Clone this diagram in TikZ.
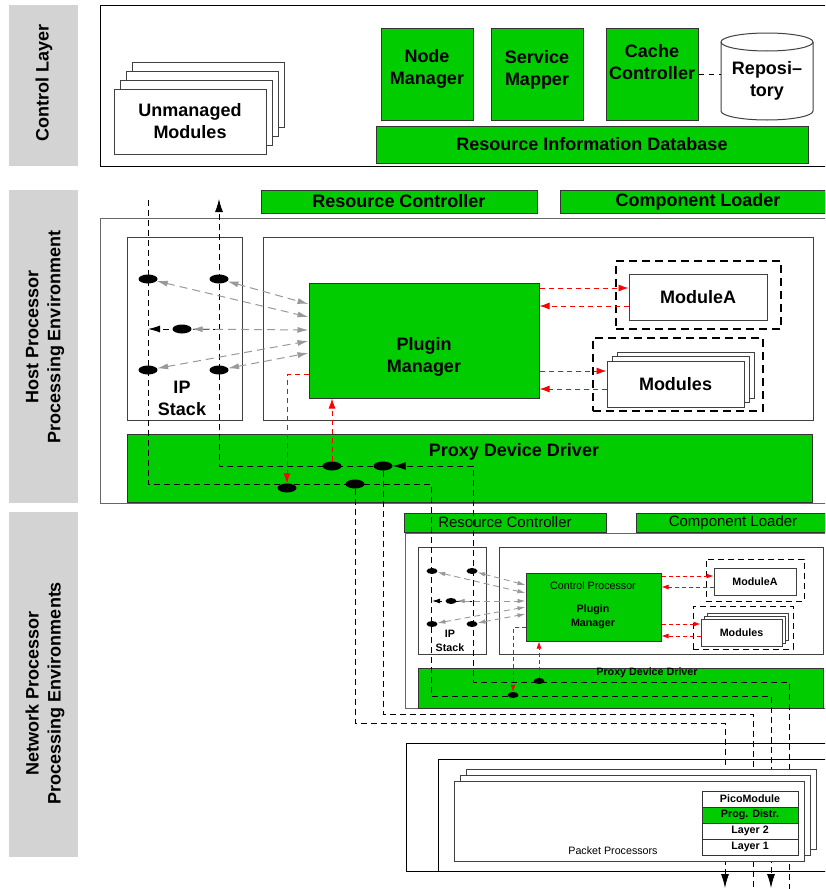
\documentclass[tikz,border=0pt]{standalone}
\usepackage{fontspec}
\setmainfont{Liberation Sans}
\usetikzlibrary{arrows.meta,positioning,shapes.geometric}
\definecolor{pgreen}{RGB}{0,204,0}
\definecolor{bargray}{RGB}{211,211,211}
\newcommand{\bigf}{\fontsize{18}{22}\selectfont\bfseries}
\newcommand{\midf}{\fontsize{15}{18}\selectfont}
\newcommand{\smallf}{\fontsize{10.7}{14}\selectfont\bfseries}
\newcommand{\smallr}{\fontsize{10.7}{14}\selectfont}
\begin{document}
\begin{tikzpicture}[x=1pt, y=-1pt,
  frame/.style={draw=black!75, line width=1pt, fill=white},
  gbox/.style={draw=black!80, line width=1pt, fill=pgreen},
  grp/.style={draw, line width=1.2pt, dash pattern=on 8pt off 5pt},
  sgrp/.style={draw, line width=1pt, dash pattern=on 6pt off 4pt},
  bar/.style={fill=bargray, inner sep=0pt},
  bigtxt/.style={font=\bigf, align=center, inner sep=0pt},
  smalltxt/.style={font=\smallf, align=center, inner sep=0pt},
  cell/.style={draw=black!80, line width=1pt, fill=white, minimum width=96pt,
    minimum height=16pt, inner sep=0pt, outer sep=0pt, font=\smallf},
  bus/.style={draw, line width=0.9pt, dash pattern=on 6pt off 4pt},
  ctl/.style={draw=red, line width=0.9pt, dash pattern=on 5pt off 4pt,
    -{Latex[length=10pt,width=7pt]}},
  sctl/.style={draw=red, line width=0.8pt, dash pattern=on 4pt off 3pt,
    -{Latex[length=7pt,width=5pt]}},
  ipc/.style={draw=black!40, line width=1pt, dash pattern=on 8pt off 5pt,
    {Latex[length=11pt,width=6pt]}-{Latex[length=11pt,width=6pt]}},
  sipc/.style={draw=black!40, line width=0.9pt, dash pattern=on 6pt off 4pt,
    {Latex[length=8pt,width=4.5pt]}-{Latex[length=8pt,width=4.5pt]}},
  dot/.style={ellipse, fill=black, inner sep=0pt, minimum width=19pt, minimum height=9pt},
  sdot/.style={dot, minimum width=11pt, minimum height=6pt}]
\useasboundingbox (0,0) rectangle (825,889);
\clip (0,0) rectangle (825,889);

% layer labels
\node[bar, minimum width=69pt, minimum height=161pt] (clbar) at (43.5,85.5) {};
\node[bar, minimum width=69pt, minimum height=313pt] (hpbar) at (43.5,346.5) {};
\node[bar, minimum width=69pt, minimum height=345pt] (npbar) at (43.5,684.5) {};
\node[bigtxt, rotate=90] (cltxt) at (44,83) {Control Layer};
\node[bigtxt, rotate=90] (hptxt) at (45,337) {Host Processor\\Processing Environment};
\node[bigtxt, rotate=90] (nptxt) at (45,693) {Network Processor\\Processing Environments};

% control layer
\node[frame, draw=black, minimum width=740pt, minimum height=161pt] (clbox) at (470,85.5) {};
\foreach \k in {3,2,1}
  \node[frame, minimum width=152pt, minimum height=65pt] (um\k) at ({190+6*\k},{121.5-9*\k}) {};
\node[frame, minimum width=152pt, minimum height=65pt, font=\bigf, align=center] (unmanaged) at (190,121.5) {Unmanaged\\Modules};
\node[gbox, minimum width=92pt, minimum height=92pt] (nodemgr) at (427,74) {};
\node[bigtxt] (nodemgrtxt) at (427,69) {Node\\Manager};
\node[gbox, minimum width=92pt, minimum height=92pt] (svcmap) at (537,74) {};
\node[bigtxt] (svcmaptxt) at (537,70) {Service\\Mapper};
\node[gbox, minimum width=92pt, minimum height=92pt] (cachectl) at (652,74) {};
\node[bigtxt] (cachectltxt) at (652,62) {Cache\\Controller};
\draw[frame] (721,42) -- (721,111) arc[start angle=180, end angle=360, x radius=46pt, y radius=9pt]
  -- (813,42) arc[start angle=0, end angle=180, x radius=46pt, y radius=9pt] -- cycle;
\draw[draw=black!75, line width=1pt] (721,42) arc[start angle=180, end angle=360, x radius=46pt, y radius=9pt];
\node[bigtxt] (repo) at (767,81) {Reposi--\\tory};
\coordinate (repoedge) at (721,74);
\draw[line width=0.9pt, dash pattern=on 5pt off 5pt] (cachectl.east) -- (repoedge);
\node[gbox, minimum width=432pt, minimum height=37pt, font=\bigf] (rid) at (592,144.5) {Resource Information Database};

% host processor
\node[gbox, minimum width=276pt, minimum height=23pt, inner sep=0pt, font=\bigf] (hrc) at (399,201.5) {Resource Controller};
\node[gbox, minimum width=276pt, minimum height=23pt, inner sep=0pt, font=\bigf] (hcl) at (698,201.5) {Component Loader};
\node[frame, draw=black!60, minimum width=740pt, minimum height=285pt] (hostbox) at (470,360.5) {};
\node[frame, minimum width=115pt, minimum height=183pt] (hipbox) at (184.5,328.5) {};
\node[bigtxt] (hiptxt) at (182,398) {IP\\Stack};
\node[frame, minimum width=550pt, minimum height=183pt] (hplugarea) at (538,328.5) {};
\node[gbox, minimum width=230pt, minimum height=115pt] (hpm) at (424,340.5) {};
\node[bigtxt] (hpmtxt) at (424,357) {Plugin\\Manager};
\node[grp, minimum width=165pt, minimum height=68pt] (hmodagrp) at (698.5,295) {};
\node[frame, minimum width=138pt, minimum height=46pt, font=\bigf] (hmoda) at (698,297) {ModuleA};
\node[grp, minimum width=170pt, minimum height=73pt] (hmodgrp) at (678,374.5) {};
\foreach \k in {2,1}
  \node[frame, minimum width=137pt, minimum height=46pt] (hmod\k) at ({675.5+5*\k},{384-4.5*\k}) {};
\node[frame, minimum width=137pt, minimum height=46pt, font=\bigf] (hmod) at (675.5,384) {Modules};
\node[gbox, minimum width=685pt, minimum height=68pt] (hpdd) at (469.5,468) {};
\node[bigtxt] (hpddtxt) at (514,452) {Proxy Device Driver};

% network processor
\node[gbox, minimum width=202pt, minimum height=19pt, inner sep=0pt, font=\midf] (nrc) at (505,522.5) {Resource Controller};
\node[gbox, minimum width=194pt, minimum height=19pt, inner sep=0pt, font=\midf] (ncl) at (733,522.5) {Component Loader};
\node[frame, draw=black!60, minimum width=435pt, minimum height=175pt] (netbox) at (622.5,620.5) {};
\node[frame, minimum width=68pt, minimum height=107pt] (nipbox) at (452,600.5) {};
\node[smalltxt] (niptxt) at (450,641) {IP\\Stack};
\node[frame, minimum width=324pt, minimum height=107pt] (nplugarea) at (661,600.5) {};
\node[gbox, minimum width=135pt, minimum height=68pt] (npm) at (593.5,607) {};
\node[smalltxt, font=\smallr] (npmcp) at (593,586) {Control Processor};
\node[smalltxt] (npmtxt) at (593,617) {Plugin\\Manager};
\node[sgrp, minimum width=98pt, minimum height=42pt] (nmodagrp) at (755,580) {};
\node[frame, minimum width=82pt, minimum height=27pt, font=\smallf] (nmoda) at (755,581.5) {ModuleA};
\node[sgrp, minimum width=100pt, minimum height=43pt] (nmodgrp) at (743,627.5) {};
\foreach \k in {2,1}
  \node[frame, minimum width=81pt, minimum height=27pt] (nmod\k) at ({741.5+3*\k},{632.5-3*\k}) {};
\node[frame, minimum width=81pt, minimum height=27pt, font=\smallf] (nmod) at (741.5,632.5) {Modules};
\node[gbox, minimum width=405pt, minimum height=40pt] (npdd) at (620.5,688) {};
\node[smalltxt] (npddtxt) at (647,673) {Proxy Device Driver};

% packet processor frames
\node[frame, draw=black, minimum width=434pt, minimum height=128pt] (ppouter) at (623,807) {};
\node[frame, draw=black, minimum width=402pt, minimum height=112pt] (ppinner) at (639,815) {};

% taps
\node[dot] (d1) at (148,279) {};
\node[dot] (d2) at (219,279) {};
\node[dot] (d3) at (182,329) {};
\node[dot] (d4) at (148,370) {};
\node[dot] (d5) at (219,370) {};
\node[dot] (d6) at (287,488) {};
\node[dot] (d7) at (332,466) {};
\node[dot] (d8) at (355,484) {};
\node[dot] (d9) at (383,466) {};
\node[sdot] (nd1) at (432,571) {};
\node[sdot] (nd2) at (472,571) {};
\node[sdot] (nd3) at (451,601) {};
\node[sdot] (nd4) at (432,624) {};
\node[sdot] (nd5) at (472,624) {};
\node[sdot] (nd6) at (513,695) {};
\node[sdot] (nd7) at (539,681) {};

\coordinate (btop) at (148,200);
\coordinate (atop) at (219,199);
\coordinate (bturn1) at (431,484);
\coordinate (bturn2) at (771,696);
\coordinate (bout) at (771,888);
\coordinate (aturn1) at (473,682);
\coordinate (aout) at (789,890);
\coordinate (cturn) at (753,714);
\coordinate (cout) at (753,890);
\coordinate (dturn) at (725,723);
\coordinate (dout) at (725,888);

\draw[bus, -{Latex[length=14pt,width=8pt]}] (btop) |- (bturn1) |- (bturn2) -- (bout);
\draw[bus, -{Latex[length=13pt,width=8pt]}] (aout) |- (aturn1) |- (d9);
\draw[bus, -{Latex[length=13pt,width=8pt]}] (d9) -| (atop);
\draw[bus] (d9) |- (cturn) -- (cout);
\draw[bus, -{Latex[length=14pt,width=8pt]}] (d8) |- (dturn) -- (dout);
\draw[bus, -{Latex[length=12pt,width=7pt]}] (d3 -| d2) -- (d3 -| d1);
\draw[bus, -{Latex[length=8pt,width=5pt]}] (nd3 -| nd2) -- (nd3 -| nd1);

\draw[ipc] (d2) -- ([yshift=36.5pt]hpm.west);
\draw[ipc] (d1) -- ([yshift=23.5pt]hpm.west);
\draw[ipc] (d3) -- ([yshift=10.5pt]hpm.west);
\draw[ipc] (d4) -- ([yshift=-0.5pt]hpm.west);
\draw[ipc] (d5) -- ([yshift=-12.5pt]hpm.west);
\draw[sipc] (nd2) -- ([yshift=22pt]npm.west);
\draw[sipc] (nd1) -- ([yshift=14pt]npm.west);
\draw[sipc] (nd3) -- ([yshift=6pt]npm.west);
\draw[sipc] (nd4) -- (npm.west);
\draw[sipc] (nd5) -- ([yshift=-7pt]npm.west);

\draw[ctl] ([yshift=9pt]hmoda.west -| hpm.east) -- ([yshift=9pt]hmoda.west);
\draw[ctl] ([yshift=-9pt]hmoda.west) -- ([yshift=-9pt]hmoda.west -| hpm.east);
\draw[ctl] ([yshift=13pt]hmod.west -| hpm.east) -- ([yshift=13pt]hmod.west);
\draw[ctl] ([yshift=-5pt]hmod.west) -- ([yshift=-5pt]hmod.west -| hpm.east);
\draw[ctl] ([yshift=-33.5pt]hpm.west) -| (d6);
\draw[ctl] (d7) -- (d7 |- hpm.south);
\draw[sctl] ([yshift=5.5pt]nmoda.west -| npm.east) -- ([yshift=5.5pt]nmoda.west);
\draw[sctl] ([yshift=-5.5pt]nmoda.west) -- ([yshift=-5.5pt]nmoda.west -| npm.east);
\draw[sctl] ([yshift=8.5pt]nmod.west -| npm.east) -- ([yshift=8.5pt]nmod.west);
\draw[sctl] ([yshift=-3.5pt]nmod.west) -- ([yshift=-3.5pt]nmod.west -| npm.east);
\draw[sctl] ([yshift=-20pt]npm.west) -| (nd6);
\draw[sctl] (nd7) -- (nd7 |- npm.south);

% packet processors
\foreach \k in {2,1}
  \node[frame, minimum width=350pt, minimum height=80pt] (pp\k) at ({629+6*\k},{821-6*\k}) {};
\node[frame, minimum width=350pt, minimum height=80pt] (pp) at (629,821) {};
\node[smalltxt, font=\smallr] (pptxt) at (613,851) {Packet Processors};
\node[cell] (pico) at (750,799) {PicoModule};
\node[cell, fill=pgreen, below=0pt of pico] (progd) {Prog. Distr.};
\node[cell, below=0pt of progd] (layer2) {Layer 2};
\node[cell, below=0pt of layer2] (layer1) {Layer 1};
\end{tikzpicture}
\end{document}
